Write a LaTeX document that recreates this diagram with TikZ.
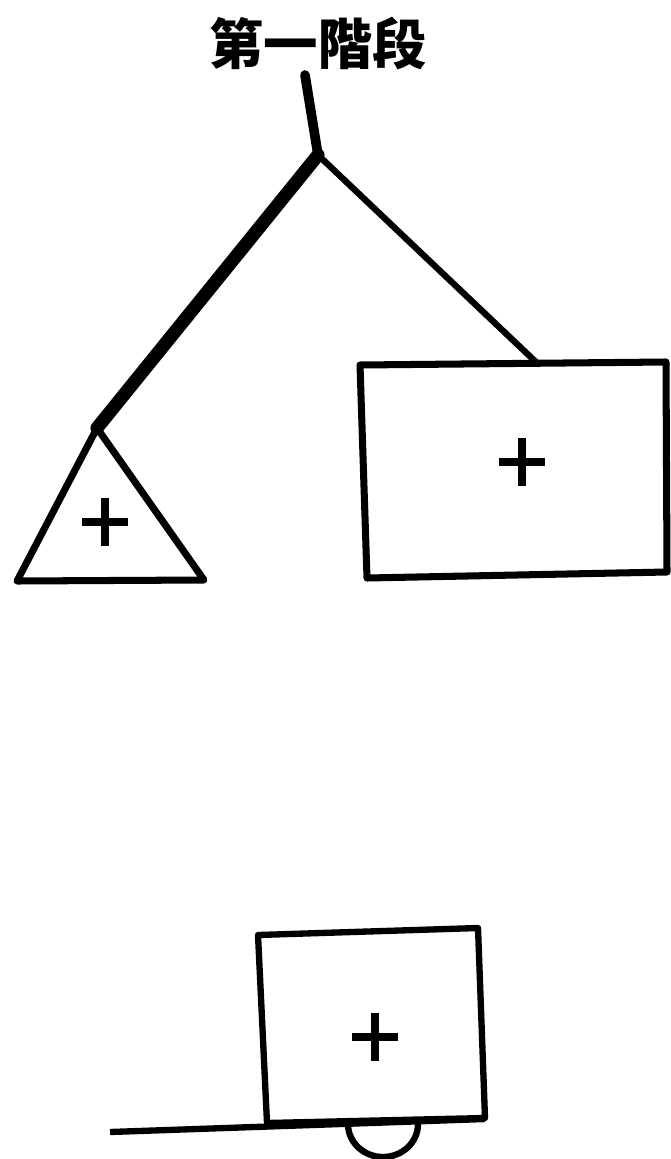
\documentclass[tikz,border=0pt]{standalone}
\usepackage{fontspec}
\newfontfamily\cjk{Noto Sans CJK TC}
\tikzset{
  outline/.style={line width=3.6pt, line join=round},
  branch/.style={line width=3.6pt, line cap=round},
  crossmark/.style={line width=4pt}
}
\begin{document}
\begin{tikzpicture}[x=0.02cm, y=-0.02cm]
    \useasboundingbox (0,0) rectangle (671,1159);

    % Title
    \node (title) at (318,44) {\cjk\bfseries\fontsize{31pt}{31pt}\selectfont 第一階段};

    % Tree
    \coordinate (stemtop) at (305,75);
    \coordinate (fork) at (318,155);
    \coordinate (apex) at (97,428);
    \coordinate (recttop) at (538,364);
    \draw[branch, line width=5.5pt] (stemtop) -- (fork);
    \draw[branch, line width=7.5pt] (fork) -- (apex);
    \draw[branch] (fork) -- (recttop);

    % Triangle
    \coordinate (triL) at (17,581);
    \coordinate (triR) at (204,580);
    \draw[outline, line width=4pt] (apex) -- (triR) -- (triL) -- cycle;

    % Right box
    \draw[outline, line width=4pt] (360,365) -- (666,362) -- (667,572) -- (367,578) -- cycle;

    % Lower box, ground and half circle
    \draw[outline] (258,935) -- (478,928) -- (485,1118) -- (267,1123) -- cycle;
    \coordinate (groundL) at (110,1132);
    \coordinate (groundR) at (485,1119);
    \draw[outline] (groundL) -- (groundR);
    \draw[outline] (348,1124) arc[start angle=180, end angle=360, x radius=35, y radius=-33];

    % Crosses
    \foreach \cx/\cy in {105/522, 522/462, 375/1037}
        \draw[crossmark] (\cx-23,\cy) -- (\cx+23,\cy) (\cx,\cy-24) -- (\cx,\cy+24);

\end{tikzpicture}
\end{document}
